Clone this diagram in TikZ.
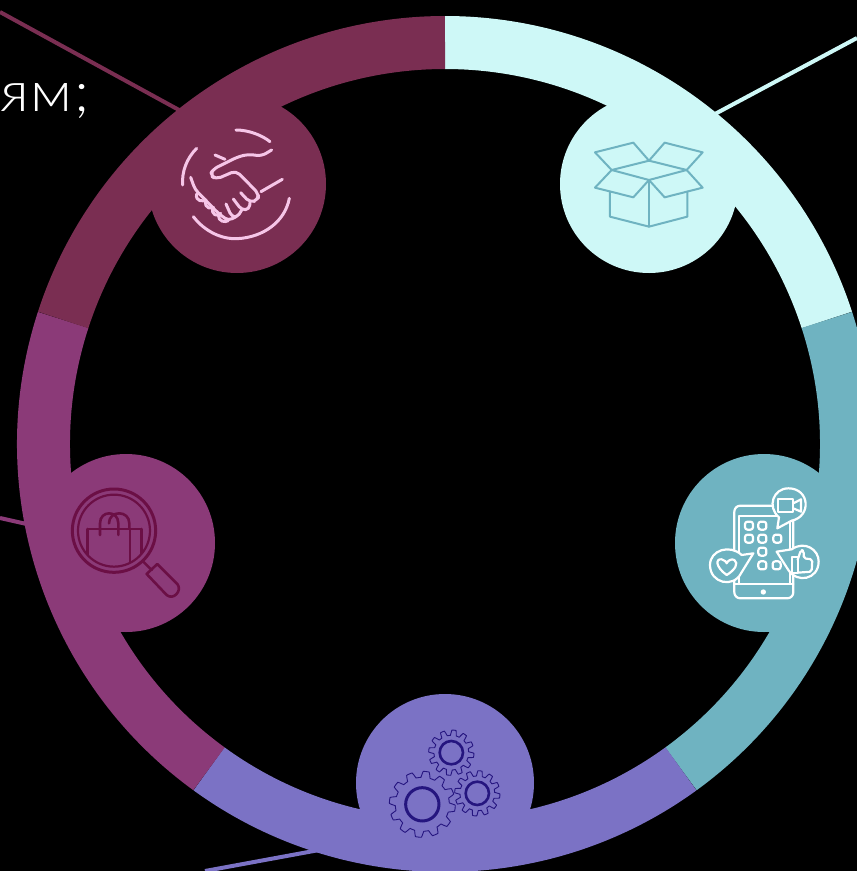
\documentclass[tikz,border=0pt]{standalone}
\usepackage{fontspec}
\newfontfamily\lblfont[FakeStretch=1.08,LetterSpace=3]{Lato Light}
\definecolor{cMaroon}{HTML}{7A2E52}
\definecolor{cCyan}{HTML}{CEF8F7}
\definecolor{cTeal}{HTML}{6FB3C1}
\definecolor{cIndigo}{HTML}{7B72C5}
\definecolor{cMagenta}{HTML}{8B3A78}
\definecolor{cPink}{HTML}{F6C6E8}
\definecolor{cGear}{HTML}{25157F}
\definecolor{cGlass}{HTML}{6B0F45}
\tikzset{
  disc/.style={circle,minimum size=178pt,inner sep=0pt,fill=#1},
  seg/.style={line width=53pt,draw=#1},
  lead/.style={line width=4pt,draw=#1},
  icon/.style={line width=#1,line join=round,line cap=round},
  zoomed/.style={shift={#1},x=0.3333pt,y=-0.3333pt},
  hs/.style={icon=3pt,cPink},
  bx/.style={icon=2pt,cTeal},
  ph/.style={icon=2.2pt,white},
  gl/.style={icon=2.6pt,cGlass},
}
\newcommand{\gearshape}[4]{% cx cy R amp (zoom units)
  \draw[cGear,line width=0.9pt,line join=round] plot[samples=241,domain=0:360,smooth]
    ({#1+(#3+#4*max(-1,min(1,2.2*sin(12*\x+8))))*cos(\x)},{#2+(#3+#4*max(-1,min(1,2.2*sin(12*\x+8))))*sin(\x)}) -- cycle;
}
\begin{document}
\begin{tikzpicture}[x=1pt,y=-1pt]
\useasboundingbox (0,0) rectangle (857,871);
\fill[black] (0,0) rectangle (857,871);
\clip (0,0) rectangle (857,871);
\coordinate (c) at (445,444);
\coordinate (a1) at (0,12);    \coordinate (a2) at (190,116);
\coordinate (b1) at (857,38);  \coordinate (b2) at (700,122);
\coordinate (d1) at (0,518);   \coordinate (d2) at (40,527);
\coordinate (e1) at (205,871); \coordinate (e2) at (330,848);
\draw[lead=cMaroon] (a1) -- (a2);
\draw[lead=cCyan] (b1) -- (b2);
\draw[lead=cMagenta] (d1) -- (d2);
\draw[lead=cIndigo] (e1) -- (e2);
\draw[seg=cCyan] ([shift={(-90:401.5)}]c) arc[start angle=-90,end angle=-18,radius=401.5];
\draw[seg=cTeal] ([shift={(-18:401.5)}]c) arc[start angle=-18,end angle=54,radius=401.5];
\draw[seg=cIndigo] ([shift={(54:401.5)}]c) arc[start angle=54,end angle=126,radius=401.5];
\draw[seg=cMagenta] ([shift={(126:401.5)}]c) arc[start angle=126,end angle=198,radius=401.5];
\draw[seg=cMaroon] ([shift={(198:401.5)}]c) arc[start angle=198,end angle=270,radius=401.5];
\node[disc=cMaroon] (hand) at (237,184) {};
\node[disc=cCyan] (box) at (649,184) {};
\node[disc=cTeal] (phone) at (764,543) {};
\node[disc=cIndigo] (gears) at (445,783) {};
\node[disc=cMagenta] (glass) at (126,543) {};
\node[anchor=base west,inner sep=0pt,text=white,font=\lblfont\fontsize{56}{56}\selectfont] (txt) at (0,111) {ям;};
% handshake
\begin{scope}[zoomed={(150,100)}]
\draw[hs] (258,90) .. controls (295,90) and (335,105) .. (360,125);
\draw[hs] (140,145) .. controls (110,175) and (95,215) .. (98,255);
\draw[hs] (130,350) .. controls (165,395) and (215,418) .. (262,416) .. controls (340,412) and (405,365) .. (418,295);
\draw[hs] (333,275) -- (397,238);
\draw[hs] (195,165) -- (225,178);
\draw[hs,rounded corners=5pt] (365,150) -- (335,168) -- (295,163) -- (265,170) -- (190,207) -- (180,225) -- (198,238) -- (258,212) -- (325,280) -- (325,300) -- (300,308) -- (272,278);
\draw[hs,rounded corners=4pt] (300,308) -- (298,328) -- (275,330) -- (250,297);
\draw[hs,rounded corners=4pt] (275,330) -- (262,352) -- (245,350) -- (228,312);
\draw[hs,rounded corners=4pt] (122,232) -- (135,268) -- (205,340) -- (235,362) -- (258,350);
\draw[hs] (140,282) .. controls (135,305) and (160,305) .. (168,300) .. controls (160,330) and (190,325) .. (190,322) .. controls (180,345) and (205,352) .. (212,340);
\draw[hs] (205,345) .. controls (205,365) and (225,368) .. (235,362);
\end{scope}
% box
\begin{scope}[zoomed={(560,100)}]
\draw[bx] (155,210) -- (105,157) -- (220,128) -- (267,182) -- (314,128) -- (428,157) -- (380,210) -- (267,182) -- cycle;
\draw[bx] (155,210) -- (267,240) -- (380,210);
\draw[bx] (155,210) -- (105,263) -- (220,292) -- (267,240) -- (314,292) -- (428,263) -- (380,210);
\draw[bx] (150,275) -- (150,350) -- (267,380) -- (382,350) -- (382,275);
\draw[bx] (267,240) -- (267,380);
\end{scope}
% phone
\begin{scope}[zoomed={(675,460)}]
\draw[ph,rounded corners=6pt] (178,137) rectangle (355,415);
\draw[ph] (192,168) -- (345,168) -- (345,372) -- (192,372) -- cycle;
\draw[ph] (178,372) -- (355,372);
\fill[white] (265,396) circle (8);
\foreach \gx/\gy in {222/197,262/197,222/236,262/236,307/236,262/275,262/316,305/316}
  \draw[ph,rounded corners=2.5pt] (\gx-12,\gy-12) rectangle (\gx+12,\gy+12);
\draw[ph,fill=cTeal] (307,205) -- (312,172) .. controls (275,140) and (295,85) .. (340,85) .. controls (405,85) and (410,170) .. (350,182) -- cycle;
\draw[ph] (310,117) rectangle (355,157);
\draw[ph] (355,130) -- (378,118) -- (378,155) -- (355,145);
\draw[ph,fill=cTeal] (235,280) -- (200,285) .. controls (165,252) and (105,270) .. (105,315) .. controls (105,370) and (175,385) .. (198,340) -- cycle;
\draw[ph] (155,345) .. controls (120,320) and (122,295) .. (140,298) .. controls (148,298) and (155,308) .. (155,310) .. controls (158,302) and (170,295) .. (178,300) .. controls (192,310) and (180,330) .. (155,345) -- cycle;
\draw[ph,fill=cTeal] (305,275) -- (350,268) .. controls (390,240) and (432,270) .. (431,305) .. controls (430,360) and (365,370) .. (340,330) -- cycle;
\draw[ph] (350,292) rectangle (368,340);
\draw[ph,rounded corners=2pt] (368,300) -- (378,270) -- (386,272) -- (386,295) -- (412,298) -- (410,335) -- (368,338);
\end{scope}
% gears
\begin{scope}[zoomed={(355,695)}]
\gearshape{202}{328}{90}{9}
\gearshape{289}{173}{60}{8}
\gearshape{367}{295}{60}{8}
\draw[cGear,line width=3pt] (202,328) circle (50);
\draw[cGear,line width=2.6pt] (289,173) circle (35);
\draw[cGear,line width=2.6pt] (367,295) circle (35);
\end{scope}
% magnifier
\begin{scope}[zoomed={(40,460)}]
\draw[gl,line width=3pt] (222,212) circle (125);
\draw[gl,line width=2.2pt] (222,212) circle (108);
\begin{scope}
\clip (222,212) circle (108);
\draw[gl] (143,207) -- (305,207) (143,207) -- (143,300) (270,207) -- (270,320) (305,207) -- (305,300);
\end{scope}
\draw[gl] (180,225) -- (180,190) .. controls (180,150) and (235,150) .. (235,190) -- (235,225);
\draw[gl] (207,190) .. controls (207,150) and (268,150) .. (268,190) -- (268,207);
\draw[gl] (310,305) -- (335,330);
\draw[gl] (320,342) -- (352,312) -- (412,372) .. controls (428,392) and (400,422) .. (380,405) -- cycle;
\end{scope}
\end{tikzpicture}
\end{document}
